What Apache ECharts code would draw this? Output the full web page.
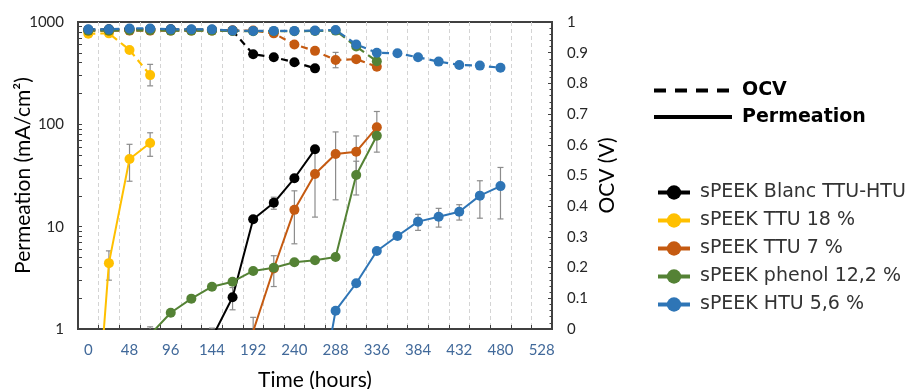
<!DOCTYPE html>
<html><head><meta charset="utf-8">
<script src="https://cdn.jsdelivr.net/npm/echarts@6/dist/echarts.min.js"></script>
<style>html,body{margin:0;padding:0;background:#fff}#c{width:909px;height:389px}</style>
</head><body><div id="c"></div>
<script>
// ---- data ----
const hours = [0,24,48,72,96,120,144,168,192,216,240,264,288,312,336,360,384,408,432,456,480];
const seriesNames = ['sPEEK Blanc TTU-HTU','sPEEK TTU 18 %','sPEEK TTU 7 %','sPEEK phenol 12,2 %','sPEEK HTU 5,6 %'];
const seriesColors = ['#000000','#FFC000','#C55A11','#548235','#2E75B6'];
const xTickLabels = [0,48,96,144,192,240,288,336,384,432,480,528];
const xGridHours = [12,36,60,84,108,132,156,180,204,228,252,276,300,324,348,372,396,420,444,468,492,516];
const logTicks = [1,2,3,4,5,6,7,8,9,10,20,30,40,50,60,70,80,90,100,200,300,400,500,600,700,800,900,1000];

// Permeation (mA/cm²), aligned with hours
const permBlank  = [null,null,null,null,null,null,0.82,2.04,11.8,17.1,29.7,57.0,null,null,null,null,null,null,null,null,null];
const permTTU18  = [0.01,4.4,45.8,65.7,null,null,null,null,null,null,null,null,null,null,null,null,null,null,null,null,null];
const permTTU7   = [null,null,null,null,null,null,null,null,0.95,3.9,14.6,32.7,51.3,54.0,93.5,null,null,null,null,null,null];
const permPhenol = [null,null,null,0.88,1.44,1.98,2.59,2.90,3.69,3.97,4.49,4.69,5.05,32.0,77.4,null,null,null,null,null,null];
const permHTU    = [null,null,null,null,null,null,null,null,null,null,null,0.115,1.51,2.80,5.78,8.1,11.2,12.5,14.0,20.1,24.9];

// OCV (V), aligned with hours
const ocvBlank  = [0.975,0.976,0.977,0.977,0.976,0.975,0.975,0.972,0.895,0.885,0.869,0.849,null,null,null,null,null,null,null,null,null];
const ocvTTU18  = [0.962,0.963,0.909,0.827,null,null,null,null,null,null,null,null,null,null,null,null,null,null,null,null,null];
const ocvTTU7   = [0.972,0.972,0.972,0.972,0.972,0.972,0.972,0.972,0.972,0.963,0.927,0.906,0.876,0.879,0.854,null,null,null,null,null,null];
const ocvPhenol = [0.972,0.972,0.973,0.973,0.972,0.972,0.972,0.971,0.970,0.970,0.970,0.971,0.972,0.920,0.872,null,null,null,null,null,null];
const ocvHTU    = [0.976,0.976,0.979,0.979,0.976,0.976,0.976,0.972,0.971,0.971,0.971,0.972,0.974,0.927,0.900,0.898,0.885,0.871,0.860,0.858,0.851];

// error bars [hour, ±error]
const errPermBlank  = [[144,0.2],[168,0.5],[216,2.3]];
const errPermTTU18  = [[24,1.4],[48,18],[72,17]];
const errPermTTU7   = [[192,0.35],[216,1.3],[240,7.8],[264,20.3],[288,33],[312,23],[336,40]];
const errPermPhenol = [[72,0.17],[312,11.6]];
const errPermHTU    = [[384,2.0],[408,2.6],[432,2.4],[456,8],[480,13]];
const errOcvBlank   = [];
const errOcvTTU18   = [[72,0.035]];
const errOcvTTU7    = [[288,0.025]];
const errOcvPhenol  = [];
const errOcvHTU     = [];

const permAll = [permBlank, permTTU18, permTTU7, permPhenol, permHTU];
const ocvAll  = [ocvBlank, ocvTTU18, ocvTTU7, ocvPhenol, ocvHTU];
const errPermAll = [errPermBlank, errPermTTU18, errPermTTU7, errPermPhenol, errPermHTU];
const errOcvAll  = [errOcvBlank, errOcvTTU18, errOcvTTU7, errOcvPhenol, errOcvHTU];

// ---- build ----
function pairs(vals){ return hours.map((h,i)=>[h, vals[i]]).filter(p=>p[1]!=null); }
function errData(errs, vals, isLog){
  return errs.map(([h,e])=>{
    const v = vals[hours.indexOf(h)];
    let lo = v - e; if (isLog && lo <= 0) lo = 0.01;
    return [h, lo, v + e];
  });
}
function errSeries(data, yIdx){
  return {
    type:'custom', yAxisIndex:yIdx, data:data, clip:true, silent:true, z:1,
    encode:{x:0, y:[1,2]},
    renderItem:function(params, api){
      const x = api.value(0);
      const pHi = api.coord([x, api.value(2)]);
      const pLo = api.coord([x, api.value(1)]);
      const w = 3, st = {stroke:'#8c8c8c', lineWidth:1.2};
      return {type:'group', children:[
        {type:'line', shape:{x1:pHi[0],y1:pHi[1],x2:pLo[0],y2:pLo[1]}, style:st},
        {type:'line', shape:{x1:pHi[0]-w,y1:pHi[1],x2:pHi[0]+w,y2:pHi[1]}, style:st},
        {type:'line', shape:{x1:pLo[0]-w,y1:pLo[1],x2:pLo[0]+w,y2:pLo[1]}, style:st}
      ]};
    }
  };
}

const series = [];
for (let i=0;i<5;i++){
  series.push(errSeries(errData(errPermAll[i], permAll[i], true), 0));
  series.push(errSeries(errData(errOcvAll[i], ocvAll[i], false), 1));
}
for (let i=0;i<5;i++){
  series.push({
    name:seriesNames[i], type:'line', yAxisIndex:0, data:pairs(permAll[i]),
    symbol:'circle', symbolSize:10, color:seriesColors[i],
    lineStyle:{width:2, color:seriesColors[i]}, itemStyle:{color:seriesColors[i]}, z:2
  });
  series.push({
    name:seriesNames[i], type:'line', yAxisIndex:1, data:pairs(ocvAll[i]),
    symbol:'circle', symbolSize:10, color:seriesColors[i],
    lineStyle:{width:2.2, type:[7,5], color:seriesColors[i]}, itemStyle:{color:seriesColors[i]}, z:2
  });
}
series.push({name:'OCV', type:'line', yAxisIndex:1, data:[], symbol:'none', color:'#000',
  lineStyle:{color:'#000', type:[12,9], width:4}});
series.push({name:'Permeation', type:'line', yAxisIndex:1, data:[], symbol:'none', color:'#000',
  lineStyle:{color:'#000', width:4}});

const axisCol = '#404040';
const option = {
  animation:false,
  backgroundColor:'#fff',
  grid:{left:78, right:357, top:22, bottom:60, containLabel:false, outerBoundsMode:'none',
        show:true, borderColor:axisCol, borderWidth:2, backgroundColor:'#fff'},
  legend:[
    {data:['OCV','Permeation'], orient:'vertical', left:652, top:81, padding:0,
     itemWidth:78, itemHeight:14, itemGap:7.5, selectedMode:false,
     lineStyle:{width:4}, itemStyle:{opacity:0},
     textStyle:{fontFamily:'DejaVu Sans', fontWeight:'bold', fontSize:19, color:'#000', padding:[0,0,0,5]}},
    {data:seriesNames, orient:'vertical', left:656, top:183, padding:0,
     itemWidth:32, itemHeight:18, itemGap:9, selectedMode:false,
     lineStyle:{width:4},
     textStyle:{fontFamily:'DejaVu Sans', fontSize:19, color:'#333', padding:[0,0,0,5]}}
  ],
  xAxis:{
    type:'value', min:-12, max:540,
    axisLine:{onZero:false, lineStyle:{color:axisCol, width:2}},
    axisTick:{show:true, inside:true, length:4, customValues:xGridHours, lineStyle:{color:axisCol}},
    splitLine:{show:true, lineStyle:{color:'#d4d4d4', type:[4,3], width:1}},
    axisLabel:{customValues:xTickLabels, color:'#41699A', fontFamily:'Lato', fontSize:15, margin:14},
    name:'Time (hours)', nameLocation:'middle', nameGap:41, nameMoveOverlap:false,
    nameTextStyle:{fontFamily:'Lato', fontSize:21, color:'#000'}
  },
  yAxis:[
    {type:'log', logBase:10, min:1, max:1000, position:'left',
     axisLine:{show:true, onZero:false, lineStyle:{color:axisCol, width:2}},
     axisTick:{show:true, inside:true, length:4, customValues:logTicks, lineStyle:{color:axisCol}},
     splitLine:{show:false},
     axisLabel:{color:'#262626', fontFamily:'Lato', fontSize:15, margin:14, formatter:function(v){return String(v);}},
     name:'Permeation (mA/cm²)', nameLocation:'middle', nameRotate:90, nameGap:44, nameMoveOverlap:false,
     nameTextStyle:{fontFamily:'Lato', fontSize:21, color:'#000'}},
    {type:'value', min:0, max:1, interval:0.1, position:'right',
     axisLine:{show:true, onZero:false, lineStyle:{color:axisCol, width:2}},
     axisTick:{show:true, inside:true, length:4, lineStyle:{color:axisCol}},
     minorTick:{show:true, splitNumber:5, length:2.5, lineStyle:{color:axisCol}},
     splitLine:{show:false}, minorSplitLine:{show:false},
     axisLabel:{color:'#262626', fontFamily:'Lato', fontSize:15, margin:15},
     name:'OCV (V)', nameLocation:'middle', nameRotate:90, nameGap:45, nameMoveOverlap:false,
     nameTextStyle:{fontFamily:'Lato', fontSize:21, color:'#000'}}
  ],
  series:series
};
const chart = echarts.init(document.getElementById('c'), null, {renderer:'canvas'});
chart.setOption(option);
</script></body></html>
